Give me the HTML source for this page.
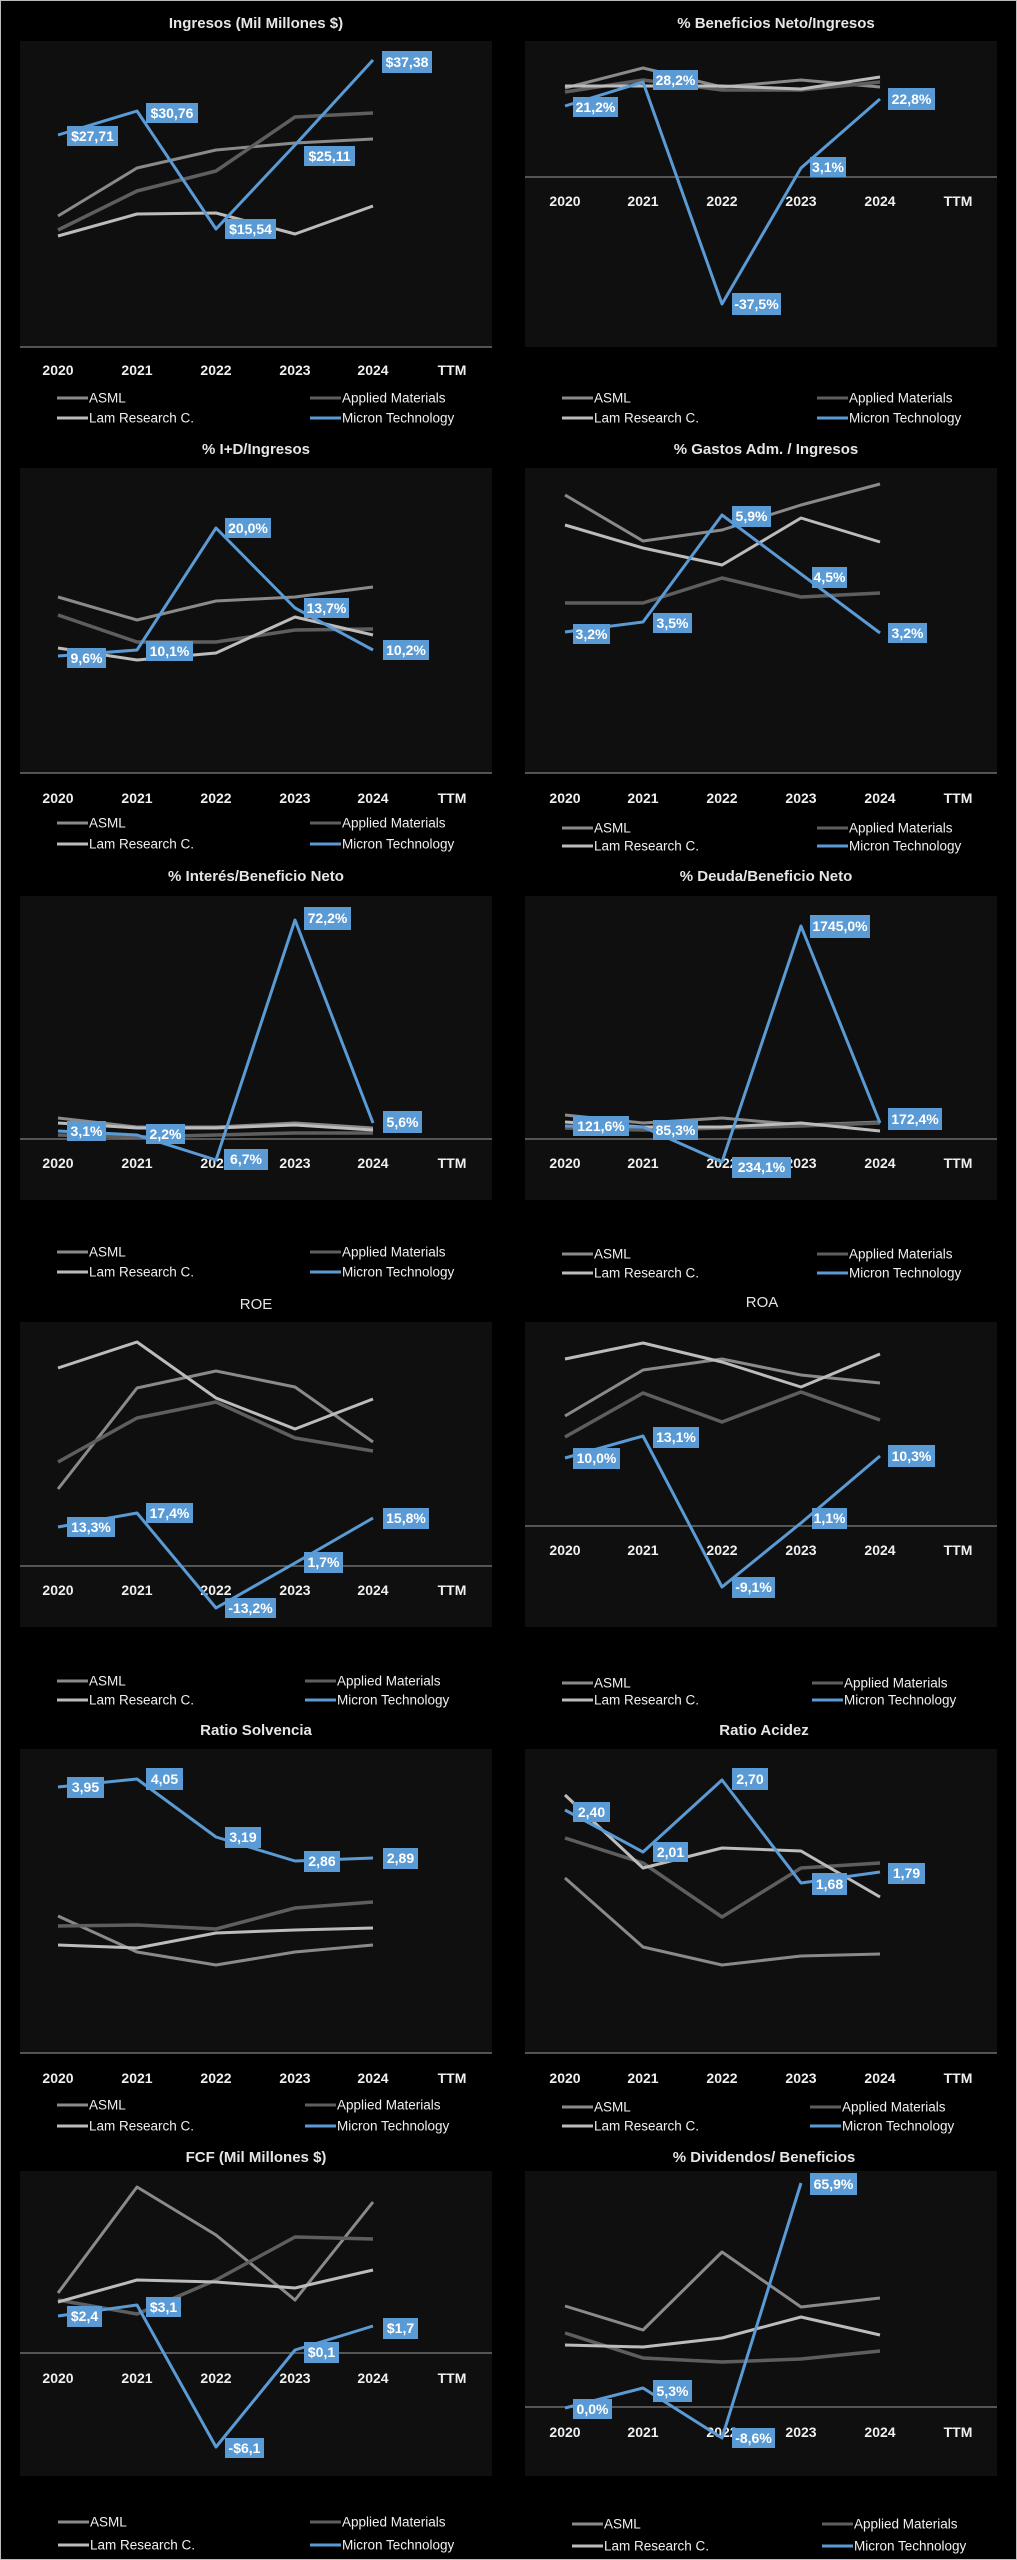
<!DOCTYPE html>
<html><head><meta charset="utf-8"><style>
html,body{margin:0;padding:0;background:#000;}
svg{display:block;}
text{font-family:"Liberation Sans",sans-serif;}
</style></head><body>
<svg width="1017" height="2560" viewBox="0 0 1017 2560" xmlns="http://www.w3.org/2000/svg">
<rect x="0" y="0" width="1017" height="2560" fill="#000"/>
<rect x="0.5" y="0.5" width="1016" height="2559" fill="none" stroke="#bbb" stroke-width="1"/>
<defs>
<style>
.t{fill:#e6e6e6;font-size:15px;font-weight:bold;text-anchor:middle}
.yr{fill:#f0f0f0;font-size:14px;font-weight:bold;text-anchor:middle;dominant-baseline:central}
.lg{fill:#f0f0f0;font-size:13.5px;dominant-baseline:central}
.lb{fill:#fff;font-size:14px;font-weight:bold;text-anchor:middle;dominant-baseline:central}
.pb{fill:#0f0f0f}
.ax{stroke:#7f7f7f;stroke-width:1.2}
.a{fill:none;stroke:#8a8a8a;stroke-width:3;stroke-linejoin:round}
.m{fill:none;stroke:#5e5e5e;stroke-width:3.5;stroke-linejoin:round}
.l{fill:none;stroke:#bcbcbc;stroke-width:3;stroke-linejoin:round}
.b{fill:none;stroke:#5b9bd5;stroke-width:3;stroke-linejoin:round}
.bx{fill:#5b9bd5}
</style>
</defs>

<!-- ============ PANEL 1 ============ -->
<text class="t" x="256" y="28">Ingresos (Mil Millones $)</text>
<text class="t" x="776" y="28">% Beneficios Neto/Ingresos</text>
<rect class="pb" x="20" y="41" width="472" height="306"/>
<rect class="pb" x="525" y="41" width="472" height="306"/>
<line class="ax" x1="20" y1="347" x2="492" y2="347"/>
<line class="ax" x1="525" y1="177" x2="997" y2="177"/>
<g class="yr"><text x="58" y="370">2020</text><text x="137" y="370">2021</text><text x="216" y="370">2022</text><text x="295" y="370">2023</text><text x="373" y="370">2024</text><text x="452" y="370">TTM</text></g>
<g class="yr"><text x="565" y="201">2020</text><text x="643" y="201">2021</text><text x="722" y="201">2022</text><text x="801" y="201">2023</text><text x="880" y="201">2024</text><text x="958" y="201">TTM</text></g>
<polyline class="a" points="58,216 137,168 216,150 295,143 373,139"/>
<polyline class="m" points="58,230 137,191 216,171 295,117 373,113"/>
<polyline class="l" points="58,236 137,214 216,213 295,234 373,206"/>
<polyline class="b" points="58,135 137,111 216,229 295,145 373,60"/>
<rect class="bx" x="67" y="126" width="51" height="20"/><text class="lb" x="92.5" y="136">$27,71</text>
<rect class="bx" x="146" y="103" width="52" height="20"/><text class="lb" x="172" y="113">$30,76</text>
<rect class="bx" x="225" y="219" width="51" height="20"/><text class="lb" x="250.5" y="229">$15,54</text>
<rect class="bx" x="304" y="146" width="51" height="20"/><text class="lb" x="329.5" y="156">$25,11</text>
<rect class="bx" x="382" y="51" width="50" height="22"/><text class="lb" x="407" y="62">$37,38</text>

<polyline class="a" points="565,88 643,68 722,87 801,80 880,87"/>
<polyline class="m" points="565,92 643,80 722,90 801,90 880,82"/>
<polyline class="l" points="565,86 643,86 722,86 801,89 880,77"/>
<polyline class="b" points="565,106 643,82 722,304 801,168 880,99"/>
<rect class="bx" x="573" y="97" width="45" height="20"/><text class="lb" x="595.5" y="107">21,2%</text>
<rect class="bx" x="653" y="70" width="45" height="20"/><text class="lb" x="675.5" y="80">28,2%</text>
<rect class="bx" x="732" y="293" width="49" height="22"/><text class="lb" x="756.5" y="304">-37,5%</text>
<rect class="bx" x="810" y="157" width="36" height="20"/><text class="lb" x="828" y="167">3,1%</text>
<rect class="bx" x="888" y="88" width="47" height="22"/><text class="lb" x="911.5" y="99">22,8%</text>

<!-- ============ PANEL 2 ============ -->
<text class="t" x="256" y="454">% I+D/Ingresos</text>
<text class="t" x="766" y="454">% Gastos Adm. / Ingresos</text>
<rect class="pb" x="20" y="468" width="472" height="305"/>
<rect class="pb" x="525" y="468" width="472" height="305"/>
<line class="ax" x1="20" y1="773" x2="492" y2="773"/>
<line class="ax" x1="525" y1="773" x2="997" y2="773"/>
<g class="yr"><text x="58" y="798">2020</text><text x="137" y="798">2021</text><text x="216" y="798">2022</text><text x="295" y="798">2023</text><text x="373" y="798">2024</text><text x="452" y="798">TTM</text></g>
<g class="yr"><text x="565" y="798">2020</text><text x="643" y="798">2021</text><text x="722" y="798">2022</text><text x="801" y="798">2023</text><text x="880" y="798">2024</text><text x="958" y="798">TTM</text></g>
<polyline class="a" points="58,597 137,620 216,601 295,597 373,587"/>
<polyline class="m" points="58,615 137,642 216,642 295,630 373,629"/>
<polyline class="l" points="58,648 137,660 216,653 295,617 373,635"/>
<polyline class="b" points="58,656 137,650 216,528 295,608 373,650"/>
<rect class="bx" x="67" y="648" width="39" height="20"/><text class="lb" x="86.5" y="658">9,6%</text>
<rect class="bx" x="146" y="641" width="47" height="20"/><text class="lb" x="169.5" y="651">10,1%</text>
<rect class="bx" x="225" y="518" width="46" height="20"/><text class="lb" x="248" y="528">20,0%</text>
<rect class="bx" x="304" y="598" width="45" height="20"/><text class="lb" x="326.5" y="608">13,7%</text>
<rect class="bx" x="383" y="640" width="46" height="20"/><text class="lb" x="406" y="650">10,2%</text>

<polyline class="a" points="565,495 643,541 722,530 801,505 880,484"/>
<polyline class="m" points="565,603 643,603 722,578 801,597 880,593"/>
<polyline class="l" points="565,525 643,548 722,565 801,518 880,542"/>
<polyline class="b" points="565,632 643,622 722,515 801,574 880,633"/>
<rect class="bx" x="573" y="624" width="37" height="20"/><text class="lb" x="591.5" y="634">3,2%</text>
<rect class="bx" x="653" y="613" width="39" height="20"/><text class="lb" x="672.5" y="623">3,5%</text>
<rect class="bx" x="732" y="506" width="39" height="21"/><text class="lb" x="751.5" y="516">5,9%</text>
<rect class="bx" x="812" y="567" width="35" height="21"/><text class="lb" x="829.5" y="577">4,5%</text>
<rect class="bx" x="888" y="623" width="39" height="20"/><text class="lb" x="907.5" y="633">3,2%</text>

<!-- ============ PANEL 3 ============ -->
<text class="t" x="256" y="881">% Interés/Beneficio  Neto</text>
<text class="t" x="766" y="881">% Deuda/Beneficio  Neto</text>
<rect class="pb" x="20" y="896" width="472" height="304"/>
<rect class="pb" x="525" y="896" width="472" height="304"/>
<line class="ax" x1="20" y1="1139" x2="492" y2="1139"/>
<line class="ax" x1="525" y1="1139" x2="997" y2="1139"/>
<g class="yr"><text x="58" y="1163">2020</text><text x="137" y="1163">2021</text><text x="216" y="1163">2022</text><text x="295" y="1163">2023</text><text x="373" y="1163">2024</text><text x="452" y="1163">TTM</text></g>
<g class="yr"><text x="565" y="1163">2020</text><text x="643" y="1163">2021</text><text x="722" y="1163">2022</text><text x="801" y="1163">2023</text><text x="880" y="1163">2024</text><text x="958" y="1163">TTM</text></g>
<polyline class="a" points="58,1118 137,1127 216,1127 295,1123 373,1128"/>
<polyline class="m" points="58,1135 137,1137 216,1135 295,1133 373,1133"/>
<polyline class="l" points="58,1123 137,1128 216,1128 295,1125 373,1130"/>
<polyline class="b" points="58,1131 137,1135 216,1160 295,920 373,1123"/>
<rect class="bx" x="67" y="1121" width="39" height="20"/><text class="lb" x="86.5" y="1131">3,1%</text>
<rect class="bx" x="146" y="1124" width="39" height="20"/><text class="lb" x="165.5" y="1134">2,2%</text>
<rect class="bx" x="224" y="1149" width="44" height="21"/><text class="lb" x="246" y="1159">6,7%</text>
<rect class="bx" x="304" y="907" width="47" height="23"/><text class="lb" x="327.5" y="918">72,2%</text>
<rect class="bx" x="383" y="1111" width="39" height="22"/><text class="lb" x="402.5" y="1122">5,6%</text>

<polyline class="a" points="565,1115 643,1123 722,1118 801,1125 880,1122"/>
<polyline class="m" points="565,1128 643,1130 722,1128 801,1126 880,1123"/>
<polyline class="l" points="565,1122 643,1127 722,1127 801,1123 880,1131"/>
<polyline class="b" points="565,1126 643,1127 722,1162 801,926 880,1123"/>
<rect class="bx" x="573" y="1116" width="56" height="20"/><text class="lb" x="601" y="1126">121,6%</text>
<rect class="bx" x="653" y="1120" width="45" height="20"/><text class="lb" x="675.5" y="1130">85,3%</text>
<rect class="bx" x="732" y="1157" width="59" height="21"/><text class="lb" x="761.5" y="1167">234,1%</text>
<rect class="bx" x="810" y="915" width="60" height="23"/><text class="lb" x="840" y="926">1745,0%</text>
<rect class="bx" x="888" y="1108" width="54" height="22"/><text class="lb" x="915" y="1119">172,4%</text>

<!-- ============ PANEL 4 ============ -->
<text class="t" x="256" y="1309" style="font-weight:normal">ROE</text>
<text class="t" x="762" y="1307" style="font-weight:normal">ROA</text>
<rect class="pb" x="20" y="1322" width="472" height="305"/>
<rect class="pb" x="525" y="1322" width="472" height="305"/>
<line class="ax" x1="20" y1="1566" x2="492" y2="1566"/>
<line class="ax" x1="525" y1="1526" x2="997" y2="1526"/>
<g class="yr"><text x="58" y="1590">2020</text><text x="137" y="1590">2021</text><text x="216" y="1590">2022</text><text x="295" y="1590">2023</text><text x="373" y="1590">2024</text><text x="452" y="1590">TTM</text></g>
<g class="yr"><text x="565" y="1550">2020</text><text x="643" y="1550">2021</text><text x="722" y="1550">2022</text><text x="801" y="1550">2023</text><text x="880" y="1550">2024</text><text x="958" y="1550">TTM</text></g>
<polyline class="a" points="58,1489 137,1388 216,1371 295,1387 373,1442"/>
<polyline class="m" points="58,1462 137,1418 216,1402 295,1438 373,1451"/>
<polyline class="l" points="58,1368 137,1342 216,1398 295,1429 373,1399"/>
<polyline class="b" points="58,1527 137,1513 216,1608 295,1563 373,1518"/>
<rect class="bx" x="67" y="1517" width="48" height="20"/><text class="lb" x="91" y="1527">13,3%</text>
<rect class="bx" x="146" y="1503" width="47" height="20"/><text class="lb" x="169.5" y="1513">17,4%</text>
<rect class="bx" x="225" y="1598" width="51" height="20"/><text class="lb" x="250.5" y="1608">-13,2%</text>
<rect class="bx" x="304" y="1552" width="39" height="21"/><text class="lb" x="323.5" y="1562">1,7%</text>
<rect class="bx" x="383" y="1508" width="46" height="21"/><text class="lb" x="406" y="1518">15,8%</text>

<polyline class="a" points="565,1416 643,1370 722,1359 801,1375 880,1383"/>
<polyline class="m" points="565,1437 643,1393 722,1422 801,1392 880,1420"/>
<polyline class="l" points="565,1359 643,1343 722,1362 801,1387 880,1354"/>
<polyline class="b" points="565,1458 643,1436 722,1587 801,1523 880,1456"/>
<rect class="bx" x="573" y="1448" width="47" height="21"/><text class="lb" x="596.5" y="1458">10,0%</text>
<rect class="bx" x="653" y="1427" width="46" height="21"/><text class="lb" x="676" y="1437">13,1%</text>
<rect class="bx" x="732" y="1577" width="43" height="21"/><text class="lb" x="753.5" y="1587">-9,1%</text>
<rect class="bx" x="812" y="1508" width="35" height="21"/><text class="lb" x="829.5" y="1518">1,1%</text>
<rect class="bx" x="888" y="1445" width="47" height="22"/><text class="lb" x="911.5" y="1456">10,3%</text>

<!-- ============ PANEL 5 ============ -->
<text class="t" x="256" y="1735">Ratio Solvencia</text>
<text class="t" x="764" y="1735">Ratio Acidez</text>
<rect class="pb" x="20" y="1749" width="472" height="304"/>
<rect class="pb" x="525" y="1749" width="472" height="304"/>
<line class="ax" x1="20" y1="2053" x2="492" y2="2053"/>
<line class="ax" x1="525" y1="2053" x2="997" y2="2053"/>
<g class="yr"><text x="58" y="2078">2020</text><text x="137" y="2078">2021</text><text x="216" y="2078">2022</text><text x="295" y="2078">2023</text><text x="373" y="2078">2024</text><text x="452" y="2078">TTM</text></g>
<g class="yr"><text x="565" y="2078">2020</text><text x="643" y="2078">2021</text><text x="722" y="2078">2022</text><text x="801" y="2078">2023</text><text x="880" y="2078">2024</text><text x="958" y="2078">TTM</text></g>
<polyline class="a" points="58,1916 137,1952 216,1965 295,1952 373,1945"/>
<polyline class="m" points="58,1926 137,1925 216,1929 295,1908 373,1902"/>
<polyline class="l" points="58,1945 137,1948 216,1933 295,1930 373,1928"/>
<polyline class="b" points="58,1787 137,1779 216,1837 295,1861 373,1858"/>
<rect class="bx" x="67" y="1777" width="37" height="21"/><text class="lb" x="85.5" y="1787">3,95</text>
<rect class="bx" x="146" y="1768" width="37" height="22"/><text class="lb" x="164.5" y="1779">4,05</text>
<rect class="bx" x="225" y="1827" width="36" height="21"/><text class="lb" x="243" y="1837">3,19</text>
<rect class="bx" x="304" y="1851" width="36" height="21"/><text class="lb" x="322" y="1861">2,86</text>
<rect class="bx" x="383" y="1848" width="35" height="21"/><text class="lb" x="400.5" y="1858">2,89</text>

<polyline class="a" points="565,1878 643,1947 722,1965 801,1956 880,1954"/>
<polyline class="m" points="565,1838 643,1863 722,1917 801,1868 880,1863"/>
<polyline class="l" points="565,1795 643,1868 722,1848 801,1851 880,1897"/>
<polyline class="b" points="565,1810 643,1852 722,1780 801,1883 880,1872"/>
<rect class="bx" x="573" y="1802" width="37" height="20"/><text class="lb" x="591.5" y="1812">2,40</text>
<rect class="bx" x="653" y="1842" width="35" height="20"/><text class="lb" x="670.5" y="1852">2,01</text>
<rect class="bx" x="732" y="1768" width="36" height="22"/><text class="lb" x="750" y="1779">2,70</text>
<rect class="bx" x="812" y="1873" width="35" height="22"/><text class="lb" x="829.5" y="1884">1,68</text>
<rect class="bx" x="888" y="1863" width="37" height="21"/><text class="lb" x="906.5" y="1873">1,79</text>

<!-- ============ PANEL 6 ============ -->
<text class="t" x="256" y="2162">FCF (Mil  Millones $)</text>
<text class="t" x="764" y="2162">% Dividendos/  Beneficios</text>
<rect class="pb" x="20" y="2171" width="472" height="305"/>
<rect class="pb" x="525" y="2171" width="472" height="305"/>
<line class="ax" x1="20" y1="2353" x2="492" y2="2353"/>
<line class="ax" x1="525" y1="2407" x2="997" y2="2407"/>
<g class="yr"><text x="58" y="2378">2020</text><text x="137" y="2378">2021</text><text x="216" y="2378">2022</text><text x="295" y="2378">2023</text><text x="373" y="2378">2024</text><text x="452" y="2378">TTM</text></g>
<g class="yr"><text x="565" y="2432">2020</text><text x="643" y="2432">2021</text><text x="722" y="2432">2022</text><text x="801" y="2432">2023</text><text x="880" y="2432">2024</text><text x="958" y="2432">TTM</text></g>
<polyline class="a" points="58,2293 137,2187 216,2235 295,2300 373,2202"/>
<polyline class="m" points="58,2300 137,2314 216,2280 295,2237 373,2239"/>
<polyline class="l" points="58,2302 137,2280 216,2282 295,2288 373,2270"/>
<polyline class="b" points="58,2316 137,2305 216,2447 295,2350 373,2326"/>
<rect class="bx" x="67" y="2306" width="35" height="21"/><text class="lb" x="84.5" y="2316">$2,4</text>
<rect class="bx" x="146" y="2297" width="35" height="20"/><text class="lb" x="163.5" y="2307">$3,1</text>
<rect class="bx" x="225" y="2438" width="39" height="20"/><text class="lb" x="244.5" y="2448">-$6,1</text>
<rect class="bx" x="304" y="2342" width="35" height="21"/><text class="lb" x="321.5" y="2352">$0,1</text>
<rect class="bx" x="383" y="2318" width="35" height="21"/><text class="lb" x="400.5" y="2328">$1,7</text>

<polyline class="a" points="565,2306 643,2330 722,2252 801,2307 880,2298"/>
<polyline class="m" points="565,2333 643,2358 722,2362 801,2359 880,2351"/>
<polyline class="l" points="565,2345 643,2347 722,2338 801,2317 880,2335"/>
<polyline class="b" points="565,2408 643,2388 722,2438 801,2183"/>
<rect class="bx" x="573" y="2399" width="39" height="20"/><text class="lb" x="592.5" y="2409">0,0%</text>
<rect class="bx" x="653" y="2380" width="39" height="22"/><text class="lb" x="672.5" y="2391">5,3%</text>
<rect class="bx" x="732" y="2428" width="43" height="20"/><text class="lb" x="753.5" y="2438">-8,6%</text>
<rect class="bx" x="810" y="2173" width="47" height="22"/><text class="lb" x="833.5" y="2184">65,9%</text>

<!-- ============ LEGENDS ============ -->
<g id="legs">
<!-- P1 -->
<g>
<line x1="57" y1="398" x2="88" y2="398" stroke="#8a8a8a" stroke-width="3"/><text class="lg" x="89" y="398">ASML</text>
<line x1="57" y1="418" x2="88" y2="418" stroke="#bcbcbc" stroke-width="3"/><text class="lg" x="89" y="418">Lam Research C.</text>
<line x1="310" y1="398" x2="341" y2="398" stroke="#5e5e5e" stroke-width="3"/><text class="lg" x="342" y="398">Applied Materials</text>
<line x1="310" y1="418" x2="341" y2="418" stroke="#5b9bd5" stroke-width="3"/><text class="lg" x="342" y="418">Micron Technology</text>
<line x1="562" y1="398" x2="593" y2="398" stroke="#8a8a8a" stroke-width="3"/><text class="lg" x="594" y="398">ASML</text>
<line x1="562" y1="418" x2="593" y2="418" stroke="#bcbcbc" stroke-width="3"/><text class="lg" x="594" y="418">Lam Research C.</text>
<line x1="817" y1="398" x2="848" y2="398" stroke="#5e5e5e" stroke-width="3"/><text class="lg" x="849" y="398">Applied Materials</text>
<line x1="817" y1="418" x2="848" y2="418" stroke="#5b9bd5" stroke-width="3"/><text class="lg" x="849" y="418">Micron Technology</text>
</g>
<!-- P2 -->
<g>
<line x1="57" y1="823" x2="88" y2="823" stroke="#8a8a8a" stroke-width="3"/><text class="lg" x="89" y="823">ASML</text>
<line x1="57" y1="844" x2="88" y2="844" stroke="#bcbcbc" stroke-width="3"/><text class="lg" x="89" y="844">Lam Research C.</text>
<line x1="310" y1="823" x2="341" y2="823" stroke="#5e5e5e" stroke-width="3"/><text class="lg" x="342" y="823">Applied Materials</text>
<line x1="310" y1="844" x2="341" y2="844" stroke="#5b9bd5" stroke-width="3"/><text class="lg" x="342" y="844">Micron Technology</text>
<line x1="562" y1="828" x2="593" y2="828" stroke="#8a8a8a" stroke-width="3"/><text class="lg" x="594" y="828">ASML</text>
<line x1="562" y1="846" x2="593" y2="846" stroke="#bcbcbc" stroke-width="3"/><text class="lg" x="594" y="846">Lam Research C.</text>
<line x1="817" y1="828" x2="848" y2="828" stroke="#5e5e5e" stroke-width="3"/><text class="lg" x="849" y="828">Applied Materials</text>
<line x1="817" y1="846" x2="848" y2="846" stroke="#5b9bd5" stroke-width="3"/><text class="lg" x="849" y="846">Micron Technology</text>
</g>
<!-- P3 -->
<g>
<line x1="57" y1="1252" x2="88" y2="1252" stroke="#8a8a8a" stroke-width="3"/><text class="lg" x="89" y="1252">ASML</text>
<line x1="57" y1="1272" x2="88" y2="1272" stroke="#bcbcbc" stroke-width="3"/><text class="lg" x="89" y="1272">Lam Research C.</text>
<line x1="310" y1="1252" x2="341" y2="1252" stroke="#5e5e5e" stroke-width="3"/><text class="lg" x="342" y="1252">Applied Materials</text>
<line x1="310" y1="1272" x2="341" y2="1272" stroke="#5b9bd5" stroke-width="3"/><text class="lg" x="342" y="1272">Micron Technology</text>
<line x1="562" y1="1254" x2="593" y2="1254" stroke="#8a8a8a" stroke-width="3"/><text class="lg" x="594" y="1254">ASML</text>
<line x1="562" y1="1273" x2="593" y2="1273" stroke="#bcbcbc" stroke-width="3"/><text class="lg" x="594" y="1273">Lam Research C.</text>
<line x1="817" y1="1254" x2="848" y2="1254" stroke="#5e5e5e" stroke-width="3"/><text class="lg" x="849" y="1254">Applied Materials</text>
<line x1="817" y1="1273" x2="848" y2="1273" stroke="#5b9bd5" stroke-width="3"/><text class="lg" x="849" y="1273">Micron Technology</text>
</g>
<!-- P4 -->
<g>
<line x1="57" y1="1681" x2="88" y2="1681" stroke="#8a8a8a" stroke-width="3"/><text class="lg" x="89" y="1681">ASML</text>
<line x1="57" y1="1700" x2="88" y2="1700" stroke="#bcbcbc" stroke-width="3"/><text class="lg" x="89" y="1700">Lam Research C.</text>
<line x1="305" y1="1681" x2="336" y2="1681" stroke="#5e5e5e" stroke-width="3"/><text class="lg" x="337" y="1681">Applied Materials</text>
<line x1="305" y1="1700" x2="336" y2="1700" stroke="#5b9bd5" stroke-width="3"/><text class="lg" x="337" y="1700">Micron Technology</text>
<line x1="562" y1="1683" x2="593" y2="1683" stroke="#8a8a8a" stroke-width="3"/><text class="lg" x="594" y="1683">ASML</text>
<line x1="562" y1="1700" x2="593" y2="1700" stroke="#bcbcbc" stroke-width="3"/><text class="lg" x="594" y="1700">Lam Research C.</text>
<line x1="812" y1="1683" x2="843" y2="1683" stroke="#5e5e5e" stroke-width="3"/><text class="lg" x="844" y="1683">Applied Materials</text>
<line x1="812" y1="1700" x2="843" y2="1700" stroke="#5b9bd5" stroke-width="3"/><text class="lg" x="844" y="1700">Micron Technology</text>
</g>
<!-- P5 -->
<g>
<line x1="57" y1="2105" x2="88" y2="2105" stroke="#8a8a8a" stroke-width="3"/><text class="lg" x="89" y="2105">ASML</text>
<line x1="57" y1="2126" x2="88" y2="2126" stroke="#bcbcbc" stroke-width="3"/><text class="lg" x="89" y="2126">Lam Research C.</text>
<line x1="305" y1="2105" x2="336" y2="2105" stroke="#5e5e5e" stroke-width="3"/><text class="lg" x="337" y="2105">Applied Materials</text>
<line x1="305" y1="2126" x2="336" y2="2126" stroke="#5b9bd5" stroke-width="3"/><text class="lg" x="337" y="2126">Micron Technology</text>
<line x1="562" y1="2107" x2="593" y2="2107" stroke="#8a8a8a" stroke-width="3"/><text class="lg" x="594" y="2107">ASML</text>
<line x1="562" y1="2126" x2="593" y2="2126" stroke="#bcbcbc" stroke-width="3"/><text class="lg" x="594" y="2126">Lam Research C.</text>
<line x1="810" y1="2107" x2="841" y2="2107" stroke="#5e5e5e" stroke-width="3"/><text class="lg" x="842" y="2107">Applied Materials</text>
<line x1="810" y1="2126" x2="841" y2="2126" stroke="#5b9bd5" stroke-width="3"/><text class="lg" x="842" y="2126">Micron Technology</text>
</g>
<!-- P6 -->
<g>
<line x1="58" y1="2522" x2="89" y2="2522" stroke="#8a8a8a" stroke-width="3"/><text class="lg" x="90" y="2522">ASML</text>
<line x1="58" y1="2545" x2="89" y2="2545" stroke="#bcbcbc" stroke-width="3"/><text class="lg" x="90" y="2545">Lam Research C.</text>
<line x1="310" y1="2522" x2="341" y2="2522" stroke="#5e5e5e" stroke-width="3"/><text class="lg" x="342" y="2522">Applied Materials</text>
<line x1="310" y1="2545" x2="341" y2="2545" stroke="#5b9bd5" stroke-width="3"/><text class="lg" x="342" y="2545">Micron Technology</text>
<line x1="572" y1="2524" x2="603" y2="2524" stroke="#8a8a8a" stroke-width="3"/><text class="lg" x="604" y="2524">ASML</text>
<line x1="572" y1="2546" x2="603" y2="2546" stroke="#bcbcbc" stroke-width="3"/><text class="lg" x="604" y="2546">Lam Research C.</text>
<line x1="822" y1="2524" x2="853" y2="2524" stroke="#5e5e5e" stroke-width="3"/><text class="lg" x="854" y="2524">Applied Materials</text>
<line x1="822" y1="2546" x2="853" y2="2546" stroke="#5b9bd5" stroke-width="3"/><text class="lg" x="854" y="2546">Micron Technology</text>
</g>
</g>
</svg>
</body></html>
